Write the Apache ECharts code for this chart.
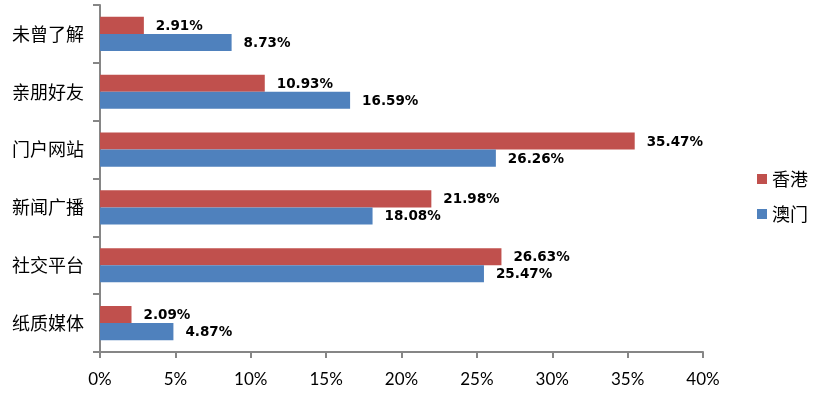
<!DOCTYPE html>
<html><head><meta charset="utf-8">
<script src="https://cdn.jsdelivr.net/npm/echarts@6/dist/echarts.min.js"></script>
<style>html,body{margin:0;padding:0;background:#fff}#c{width:813px;height:395px}</style>
</head><body><div id="c"></div>
<script>
const categories = ['纸质媒体', '社交平台', '新闻广播', '门户网站', '亲朋好友', '未曾了解'];
const hongKong = [2.09, 26.63, 21.98, 35.47, 10.93, 2.91];
const macau = [4.87, 25.47, 18.08, 26.26, 16.59, 8.73];
const xTicks = [0, 5, 10, 15, 20, 25, 30, 35, 40];

const chart = echarts.init(document.getElementById('c'));
const labelStyle = {
  show: true, position: 'right', distance: 12, offset: [0, 1],
  formatter: p => p.value.toFixed(2) + '%',
  fontFamily: 'DejaVu Sans', fontWeight: 'bold', fontSize: 13.5, color: '#000'
};
chart.setOption({
  animation: false,
  grid: { left: 100, right: 110, top: 5, bottom: 43, containLabel: false },
  legend: {
    orient: 'vertical', left: 752, top: 165, itemWidth: 10, itemHeight: 10, itemGap: 17,
    icon: 'rect', data: ['香港', '澳门'],
    textStyle: { fontFamily: 'Noto Sans CJK SC', fontSize: 18, color: '#000' }
  },
  xAxis: {
    type: 'value', min: 0, max: 40, interval: 5,
    axisLine: { show: true, lineStyle: { color: '#868686', width: 2 } },
    axisTick: { show: true, length: 6, lineStyle: { color: '#868686', width: 2 } },
    splitLine: { show: false },
    axisLabel: { formatter: v => v + '%', fontFamily: 'Lato', fontSize: 17, color: '#000', margin: 19 }
  },
  yAxis: {
    type: 'category', data: categories,
    axisLine: { lineStyle: { color: '#868686', width: 2 } },
    axisTick: { show: true, length: 7, lineStyle: { color: '#868686', width: 2 } },
    axisLabel: { fontFamily: 'Noto Sans CJK SC', fontSize: 18, color: '#000', margin: 16 }
  },
  series: [
    { name: '香港', type: 'bar', data: hongKong, itemStyle: { color: '#C0504D' },
      barGap: '0%', barCategoryGap: '41%', label: labelStyle },
    { name: '澳门', type: 'bar', data: macau, itemStyle: { color: '#4F81BD' },
      barGap: '0%', barCategoryGap: '41%', label: labelStyle }
  ]
});
</script></body></html>
